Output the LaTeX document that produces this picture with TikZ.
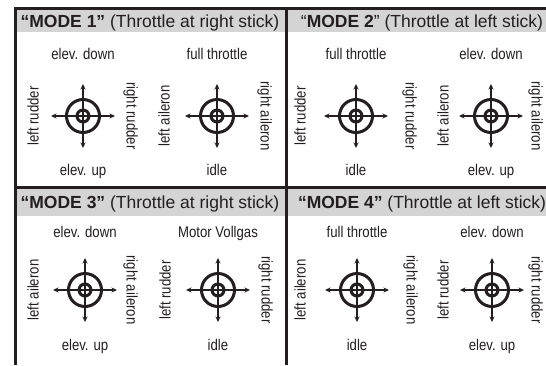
\documentclass[tikz,border=0pt]{standalone}
\usepackage{fontspec}
\setmainfont{Liberation Sans}
\newfontfamily\labfont[FakeStretch=0.85]{Liberation Sans}
\usetikzlibrary{arrows.meta}
\definecolor{ink}{HTML}{231F20}
\definecolor{band}{HTML}{D4D4D4}
\tikzset{
  lab/.style={inner sep=0pt, text height=11pt, text depth=0pt, font=\labfont\fontsize{15.5}{17}\selectfont, text=ink},
  lablt/.style={lab, rotate=90},
  labrt/.style={lab, rotate=-90},
  head/.style={inner sep=0pt, text height=12.5pt, text depth=0pt, font=\fontsize{17.5}{20}\selectfont, text=ink},
  frame/.style={draw=ink, line width=3pt},
  ring/.style={draw=ink, line width=3pt},
  arr/.style={draw=ink, line width=1.9pt, {Stealth[length=5.5pt,width=5pt]}-{Stealth[length=5.5pt,width=5pt]}},
  stick/.pic={
    \draw[ring] (0,0) circle (16.5);
    \draw[ring] (0,0) circle (6);
    \draw[arr] (-32,0) -- (32,0);
    \draw[arr] (0,-32) -- (0,32);
  }
}
\begin{document}
\begin{tikzpicture}[x=1pt,y=-1pt]
\useasboundingbox (0,0) rectangle (546,365);
% header bands
\fill[band] (15,9) rectangle (546,32);
\fill[band] (15,188) rectangle (546,216);
% frame lines
\coordinate (tl) at (15,8);
\coordinate (tr) at (546,8);
\coordinate (bl) at (15,365);
\coordinate (mt) at (286,8);
\coordinate (mb) at (286,365);
\coordinate (ml) at (15,187);
\coordinate (mr) at (546,187);
\draw[frame] (bl) -- (tl) -- (tr);
\draw[frame] (mt) -- (mb);
\draw[frame] (ml) -- (mr);
% headers
\node[head] (h1) at (150,21) {\textbf{“MODE 1”} (Throttle at right stick)};
\node[head] (h2) at (422,21) {“\textbf{MODE 2}” (Throttle at left stick)};
\node[head] (h3) at (150,202) {\textbf{“MODE 3”} (Throttle at right stick)};
\node[head] (h4) at (422,202) {\textbf{“MODE 4”} (Throttle at left stick)};
% ---- MODE 1
\pic at (83,116) {stick};
\pic at (217,116) {stick};
\node[lab] (a1t) at (83,54) {elev. down};
\node[lab] (a1b) at (83,170) {elev. up};
\node[lablt] (a1l) at (33,116) {left rudder};
\node[labrt] (a1r) at (132,116) {right rudder};
\node[lab] (b1t) at (217,54) {full throttle};
\node[lab] (b1b) at (217,170) {idle};
\node[lablt] (b1l) at (164,116) {left aileron};
\node[labrt] (b1r) at (266,116) {right aileron};
% ---- MODE 2
\pic at (356,116) {stick};
\pic at (491,116) {stick};
\node[lab] (a2t) at (356,54) {full throttle};
\node[lab] (a2b) at (356,170) {idle};
\node[lablt] (a2l) at (300,116) {left rudder};
\node[labrt] (a2r) at (411,116) {right rudder};
\node[lab] (b2t) at (491,54) {elev. down};
\node[lab] (b2b) at (491,170) {elev. up};
\node[lablt] (b2l) at (443,116) {left aileron};
\node[labrt] (b2r) at (537,116) {right aileron};
% ---- MODE 3
\pic at (85,290) {stick};
\pic at (218,290) {stick};
\node[lab] (a3t) at (85,232) {elev. down};
\node[lab] (a3b) at (85,345) {elev. up};
\node[lablt] (a3l) at (33,290) {left aileron};
\node[labrt] (a3r) at (132,290) {right aileron};
\node[lab] (b3t) at (218,232) {Motor Vollgas};
\node[lab] (b3b) at (218,345) {idle};
\node[lablt] (b3l) at (165,290) {left rudder};
\node[labrt] (b3r) at (267,290) {right rudder};
% ---- MODE 4
\pic at (357,290) {stick};
\pic at (492,290) {stick};
\node[lab] (a4t) at (357,232) {full throttle};
\node[lab] (a4b) at (357,345) {idle};
\node[lablt] (a4l) at (300,290) {left aileron};
\node[labrt] (a4r) at (412,290) {right aileron};
\node[lab] (b4t) at (492,232) {elev. down};
\node[lab] (b4b) at (492,345) {elev. up};
\node[lablt] (b4l) at (443,290) {left rudder};
\node[labrt] (b4r) at (537,290) {right rudder};
\end{tikzpicture}
\end{document}
